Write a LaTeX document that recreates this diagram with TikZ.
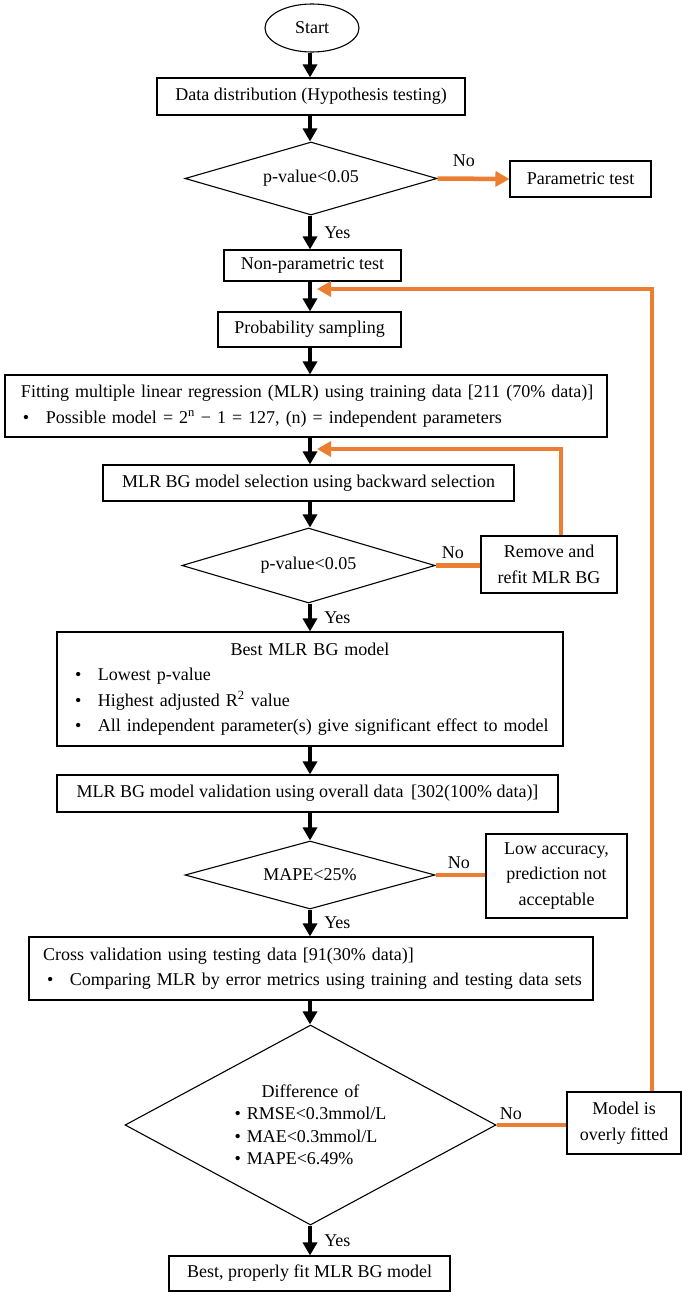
\documentclass[tikz,border=0pt]{standalone}
\usepackage{fontspec}
\setmainfont{Liberation Serif}
\usetikzlibrary{arrows.meta}
\usetikzlibrary{calc}
\usetikzlibrary{shapes.geometric}
\definecolor{loopcol}{HTML}{ED7D31}
\tikzset{
  box/.style={draw,line width=1.1pt,inner sep=0pt,align=center},
  decision/.style={diamond,draw,line width=1.1pt,inner sep=0pt,align=center},
  flow/.style={line width=4.5pt,-{Triangle[width=14pt,length=13pt]}},
  backflow/.style={loopcol,line width=4.5pt,-{Triangle[width=15pt,length=14pt]}},
  noline/.style={loopcol,line width=4.5pt},
  yes/.style={anchor=west,inner sep=0pt,xshift=12pt},
  lbl/.style={anchor=base west,inner sep=0pt}}
\newcommand\bul{\hspace*{18pt}\makebox[23pt][l]{\textbullet}}

\begin{document}
\begin{tikzpicture}[x=1pt,y=-1pt,font=\fontsize{18}{25.5}\selectfont]
  \useasboundingbox (0,0) rectangle (682,1292);
  \coordinate (col) at (310,0);
  \coordinate (loop1) at (317,449);
  \coordinate (loop2) at (317,289);

  % STEPS
  \node[ellipse,draw,line width=1.1pt,inner sep=0pt,minimum width=94pt,minimum height=48pt] (start) at (312,28) {Start};
  \node[box,minimum width=308pt,minimum height=37pt] (distrib) at (311,96.5) {Data distribution (Hypothesis testing)};
  \node[decision,minimum width=252pt,minimum height=73pt,aspect=3.4] (ptest1) at (311,178.5) {p-value<0.05};
  \node[box,minimum width=141pt,minimum height=36pt] (param) at (580.5,179) {Parametric test};
  \node[box,minimum width=177pt,minimum height=31pt] (nonparam) at (312.5,265.5) {Non-parametric test};
  \node[box,minimum width=183pt,minimum height=35pt] (sampling) at (309.5,329.5) {Probability sampling};
  \node[box,text width=602pt,align=left,minimum height=62pt] (fitting) at (306,406)
    {\hspace*{16pt}Fitting multiple linear regression (MLR) using training data [211 (70\% data)]\\
     \bul Possible model = 2\textsuperscript{n} − 1 = 127, (n) = independent parameters};
  \node[box,minimum width=411pt,minimum height=36pt] (select) at (308.5,483) {MLR BG model selection using backward selection};
  \node[decision,minimum width=253pt,minimum height=75pt,aspect=3.4] (ptest2) at (308.5,565.5) {p-value<0.05};
  \node[box,minimum width=136pt,minimum height=57pt] (refit) at (549,564.5) {Remove and\\refit MLR BG};
  \node[box,text width=506pt,align=left,minimum height=114pt] (best) at (310,689)
    {\hfill Best MLR BG model\hfill\null\\
     \bul Lowest p-value\\
     \bul Highest adjusted R\textsuperscript{2} value\\
     \bul All independent parameter(s) give significant effect to model};
  \node[box,minimum width=501pt,minimum height=37pt] (valid) at (307.5,793.5) {MLR BG model validation using overall data\ \,[302(100\% data)]};
  \node[decision,minimum width=250pt,minimum height=68pt,aspect=3.7] (mape) at (310,875) {MAPE<25\%};
  \node[box,minimum width=141pt,minimum height=84pt] (lowacc) at (556.5,876) {Low accuracy,\\prediction not\\acceptable};
  \node[box,text width=564pt,align=left,minimum height=63pt] (crossval) at (311,968.5)
    {\hspace*{14pt}Cross validation using testing data [91(30\% data)]\\
     \bul Comparing MLR by error metrics using training and testing data sets};
  \node[decision,minimum width=371pt,minimum height=200pt,aspect=1.85,text width=152pt,align=left,
        font=\fontsize{18}{22.5}\selectfont] (diff) at (310.5,1125)
    {\hfill Difference of\hfill\null\\
     \textbullet\ RMSE<0.3mmol/L\\
     \textbullet\ MAE<0.3mmol/L\\
     \textbullet\ MAPE<6.49\%};
  \node[box,minimum width=114pt,minimum height=62pt] (overfit) at (624,1123) {Model is\\overly fitted};
  \node[box,minimum width=281pt,minimum height=35pt] (final) at (309.5,1273.5) {Best, properly fit MLR BG model};

  % MAIN FLOW
  \draw[flow] (start.south -| col) -- (distrib.north -| col);
  \draw[flow] (distrib.south -| col) -- (ptest1.north -| col);
  \draw[flow] (ptest1.south -| col) -- node[yes] (yes1) {Yes} (nonparam.north -| col);
  \draw[flow] (nonparam.south -| col) -- (sampling.north -| col);
  \draw[flow] (sampling.south -| col) -- (fitting.north -| col);
  \draw[flow] (fitting.south -| col) -- (select.north -| col);
  \draw[flow] (select.south -| col) -- (ptest2.north -| col);
  \draw[flow] (ptest2.south -| col) -- node[yes] (yes2) {Yes} (best.north -| col);
  \draw[flow] (best.south -| col) -- (valid.north -| col);
  \draw[flow] (valid.south -| col) -- (mape.north -| col);
  \draw[flow] (mape.south -| col) -- node[yes] (yes3) {Yes} (crossval.north -| col);
  \draw[flow] (crossval.south -| col) -- (diff.north -| col);
  \draw[flow] (diff.south -| col) -- node[yes] (yes4) {Yes} (final.north -| col);

  % NO BRANCHES
  \draw[backflow] (ptest1.east) -- (param.west);
  \draw[noline] (ptest2.east) -- (ptest2.east -| refit.west);
  \draw[noline] (mape.east) -- (mape.east -| lowacc.west);
  \draw[noline] (diff.east) -- (diff.east -| overfit.west);
  \node[lbl] (no1) at ($(ptest1.east)+(15,-12)$) {No};
  \node[lbl] (no2) at ($(ptest2.east)+(6,-7)$) {No};
  \node[lbl] (no3) at ($(mape.east)+(12,-7)$) {No};
  \node[lbl] (no4) at ($(diff.east)+(3,-6)$) {No};

  % LOOPS
  \draw[backflow] ($(refit.north)+(12,0)$) |- (loop1);
  \draw[backflow] ($(overfit.north)+(28,0)$) |- (loop2);
\end{tikzpicture}
\end{document}
